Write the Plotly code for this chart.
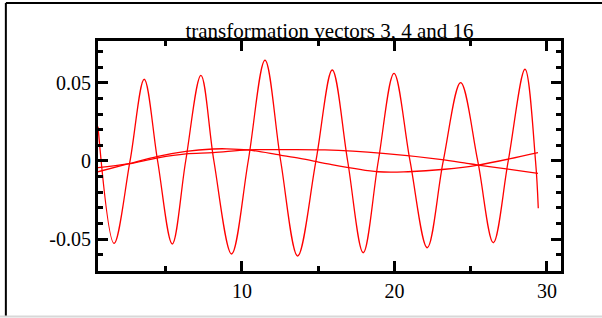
import plotly.graph_objects as go

# ---- data ----
vec16_x = [0.56, 1.61, 2.66, 3.59, 4.47, 5.43, 6.31, 7.31, 8.16, 9.32, 10.41, 11.51,
           12.54, 13.65, 14.85, 15.92, 16.93, 17.95, 18.94, 19.97, 21.02, 22.15,
           23.20, 24.34, 25.46, 26.48, 27.46, 28.56, 29.25, 29.43]
vec16_y = [0.022, -0.0528, 0.0, 0.0524, 0.0, -0.0532, 0.0, 0.0549, 0.0, -0.0596, 0.0,
           0.0647, 0.0, -0.0609, 0.0, 0.0583, 0.0, -0.0588, 0.0, 0.0562, 0.0, -0.0556,
           0.0, 0.0502, 0.0, -0.0524, 0.0, 0.0588, 0.0, -0.0303]

vec4_x = [0.56, 2.52, 4.49, 6.33, 8.10, 9.0, 10.39, 12.49, 13.80, 14.90, 15.64, 18.92,
          20.89, 23.31, 25.48, 29.41]
vec4_y = [-0.0069, -0.0019, 0.0030, 0.0062, 0.0077, 0.0078, 0.0071, 0.0038, 0.0017,
          -0.0004, -0.0019, -0.0069, -0.0069, -0.0053, -0.0026, 0.0054]

vec3_x = [0.56, 2.52, 4.49, 6.33, 8.10, 10.39, 12.49, 15.44, 19.25, 22.98, 24.75,
          25.48, 29.41]
vec3_y = [-0.0043, -0.0019, 0.0020, 0.0045, 0.0053, 0.0071, 0.0073, 0.0071, 0.0049,
          0.0011, -0.0015, -0.0026, -0.0079]

x_ticks = [10, 20, 30]
x_ticktext = ["10", "20", "30"]
y_ticks = [-0.05, 0, 0.05]
y_ticktext = ["-0.05", "0", "0.05"]
title_text = "transformation vectors 3, 4 and 16"

fig = go.Figure()
for xs, ys in [(vec16_x, vec16_y), (vec4_x, vec4_y), (vec3_x, vec3_y)]:
    fig.add_trace(go.Scatter(x=xs, y=ys, mode="lines",
                             line=dict(color="#ff0000", width=1.3, shape="spline", smoothing=1),
                             showlegend=False, hoverinfo="skip"))

font = dict(family="Liberation Serif, Times New Roman, serif", size=20, color="black")
title_font = dict(family="Liberation Serif, Times New Roman, serif", size=21, color="black")

axis_common = dict(showline=True, linecolor="black", linewidth=3, mirror="allticks",
                   ticks="inside", ticklen=10, tickwidth=3, tickcolor="black",
                   showgrid=False, zeroline=False, tickfont=font)

fig.update_xaxes(range=[0.56, 30.92], tickmode="array", tickvals=x_ticks, ticktext=x_ticktext,
                 minor=dict(tickmode="linear", tick0=0, dtick=5, ticks="inside",
                            ticklen=5, tickwidth=2.5, tickcolor="black", showgrid=False),
                 **axis_common)
fig.update_yaxes(range=[-0.0705, 0.0769], tickmode="array", tickvals=y_ticks, ticktext=y_ticktext,
                 minor=dict(tickmode="linear", tick0=0, dtick=0.01, ticks="inside",
                            ticklen=5, tickwidth=2.5, tickcolor="black", showgrid=False),
                 **axis_common)

fig.update_layout(
    width=602, height=318, autosize=False,
    margin=dict(l=98, r=41, t=41, b=47, pad=0),
    paper_bgcolor="white", plot_bgcolor="white",
    font=font,
    title=dict(text=title_text, x=0.5, xref="paper", xanchor="center",
               y=1, yref="paper", yanchor="bottom", pad=dict(b=3),
               font=title_font),
    shapes=[
        # outer frame: top and left black lines, bottom light gray line
        dict(type="line", xref="paper", yref="paper", x0=-0.199, x1=1.10, y0=1.1652, y1=1.1652,
             line=dict(color="black", width=2)),
        dict(type="line", xref="paper", yref="paper", x0=-0.199, x1=-0.199, y0=1.1652, y1=-0.198,
             line=dict(color="black", width=2)),
        dict(type="line", xref="paper", yref="paper", x0=-0.22, x1=1.10, y0=-0.1978, y1=-0.1978,
             line=dict(color="#d8d8d8", width=2)),
    ],
)

fig.write_html("out.html", config={"displayModeBar": False},
               post_script="document.body.style.margin='0';document.body.style.padding='0';")
